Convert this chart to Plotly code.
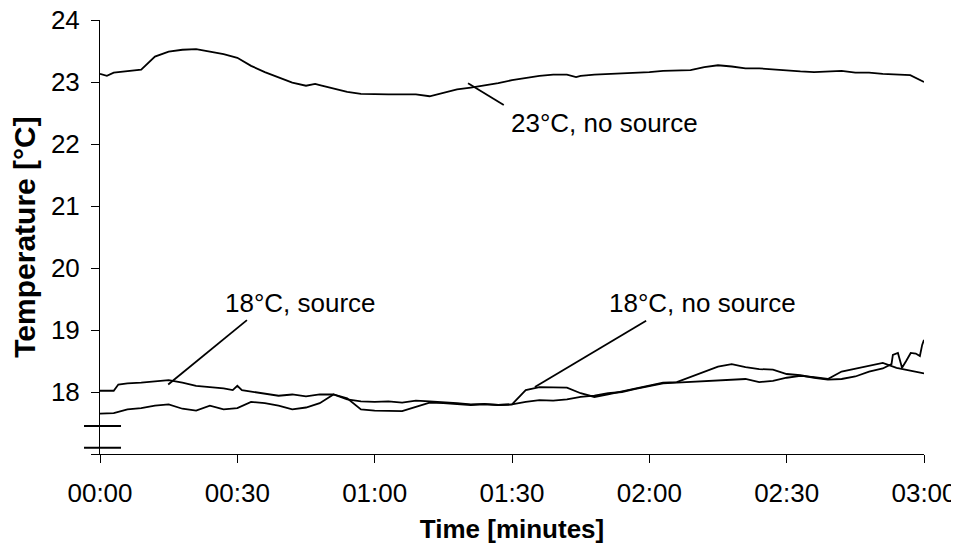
import plotly.graph_objects as go

# ---------------- data ----------------
# time in seconds (axis labelled mm:ss)
t_top = [0, 1.5, 3, 6, 9, 12, 15, 18, 21, 24, 27, 30, 33, 36, 39, 42, 45, 47, 48, 51, 54, 57,
         60, 63, 66, 69, 72, 75, 78, 81, 84, 87, 90, 93, 96, 99, 102, 104, 105, 108, 111, 114, 117,
         120, 123, 126, 129, 132, 135, 138, 141, 144, 147, 150, 153, 156, 159, 162, 165, 168, 171, 174, 177, 180]
temp_23_nosource = [23.13, 23.10, 23.15, 23.18, 23.20, 23.41, 23.49, 23.52, 23.53, 23.49, 23.45,
                    23.39, 23.26, 23.16, 23.08, 22.99, 22.94, 22.97, 22.95, 22.89, 22.84, 22.81,
                    22.80, 22.80, 22.80, 22.80, 22.77, 22.83, 22.88, 22.91, 22.94, 22.98,
                    23.03, 23.07, 23.10, 23.12, 23.12, 23.08, 23.10, 23.12, 23.13, 23.13, 23.14,
                    23.16, 23.18, 23.18, 23.19, 23.24, 23.27, 23.25, 23.22, 23.22, 23.20,
                    23.19, 23.17, 23.16, 23.17, 23.18, 23.15, 23.15, 23.13, 23.12, 23.11, 23.00]

t_src = [0, 3, 4, 6, 9, 12, 15, 18, 21, 24, 27, 29, 30, 31, 33, 36, 39, 42, 45, 48, 51, 54, 57,
         60, 63, 66, 69, 72, 75, 78, 81, 84, 87, 90, 93, 96, 99, 102, 105, 108, 111, 114, 117,
         120, 123, 126, 129, 132, 135, 138, 141, 144, 147, 150, 153, 156, 159, 162, 165, 168, 171, 174, 177, 180]
temp_18_source = [18.02, 18.02, 18.12, 18.14, 18.15, 18.17, 18.19, 18.15, 18.10, 18.08, 18.06,
                  18.03, 18.10, 18.03, 18.01, 17.98, 17.94, 17.96, 17.93, 17.96, 17.96, 17.88, 17.85,
                  17.84, 17.85, 17.83, 17.86, 17.85, 17.84, 17.82, 17.80, 17.81, 17.79,
                  17.80, 17.84, 17.87, 17.86, 17.88, 17.92, 17.94, 17.98, 18.00, 18.05,
                  18.10, 18.14, 18.15, 18.16, 18.18, 18.19, 18.20, 18.21, 18.16, 18.18,
                  18.23, 18.26, 18.24, 18.21, 18.33, 18.38, 18.43, 18.47, 18.39, 18.34, 18.30]

t_nosrc = [0, 3, 6, 9, 12, 15, 18, 21, 24, 27, 30, 33, 36, 39, 42, 45, 48, 51, 54, 57,
           60, 63, 66, 69, 72, 75, 78, 81, 84, 87, 90, 93, 96, 99, 102, 105, 108, 111, 114, 117,
           120, 123, 126, 129, 132, 135, 138, 141, 144, 147, 150, 153, 156, 159, 162, 165, 168, 171,
           172.9, 173.2, 174.3, 175.2, 176.1, 177.1, 178.2, 179.1, 179.6, 180]
temp_18_nosource = [17.65, 17.66, 17.72, 17.74, 17.78, 17.80, 17.73, 17.70, 17.78, 17.72,
                    17.74, 17.84, 17.82, 17.78, 17.72, 17.75, 17.82, 17.96, 17.90, 17.72,
                    17.70, 17.70, 17.69, 17.76, 17.83, 17.82, 17.80, 17.79, 17.80, 17.79,
                    17.80, 18.03, 18.08, 18.08, 18.07, 17.98, 17.92, 17.96, 18.01, 18.06,
                    18.10, 18.15, 18.16, 18.24, 18.33, 18.41, 18.45, 18.40, 18.37, 18.36,
                    18.29, 18.27, 18.23, 18.20, 18.21, 18.25, 18.33, 18.38,
                    18.45, 18.60, 18.63, 18.39, 18.50, 18.63, 18.62, 18.58, 18.76, 18.84]

x_tickvals = [0, 30, 60, 90, 120, 150, 180]
x_ticktext = ["00:00", "00:30", "01:00", "01:30", "02:00", "02:30", "03:00"]
y_tickvals = [17, 18, 19, 20, 21, 22, 23, 24]
y_ticktext = ["", "18", "19", "20", "21", "22", "23", "24"]

FONT = "Liberation Sans, Arial, sans-serif"

fig = go.Figure()
for tx, ty, name in [(t_top, temp_23_nosource, "23°C, no source"),
                     (t_src, temp_18_source, "18°C, source"),
                     (t_nosrc, temp_18_nosource, "18°C, no source")]:
    fig.add_trace(go.Scatter(x=tx, y=ty, mode="lines", name=name,
                             line=dict(color="black", width=1.8)))

# leader lines (data coords): from label to curve
leaders = [((88.2, 22.63), (80.4, 22.98)),
           ((32.1, 19.16), (14.9, 18.12)),
           ((119.3, 19.15), (95.0, 18.08))]
for (x0, y0), (x1, y1) in leaders:
    fig.add_shape(type="line", x0=x0, y0=y0, x1=x1, y1=y1, xref="x", yref="y",
                  line=dict(color="black", width=1.8))

# label annotations
labels = [(110.1, 22.34, "23°C, no source"),
          (43.9, 19.44, "18°C, source"),
          (131.7, 19.44, "18°C, no source")]
for lx, ly, txt in labels:
    fig.add_annotation(x=lx, y=ly, text=txt, showarrow=False, xref="x", yref="y",
                       font=dict(family=FONT, size=26, color="black"),
                       xanchor="center", yanchor="middle")

# axis break marks
for yb in [17.45, 17.1]:
    fig.add_shape(type="line", xref="paper", yref="y", x0=-0.0194, x1=0.0255, y0=yb, y1=yb,
                  line=dict(color="black", width=2))

# the page body adds an 8 px offset, so the figure is 8 px smaller
fig.update_layout(
    width=951, height=537,
    margin=dict(l=92, r=35, t=12, b=91),
    paper_bgcolor="white", plot_bgcolor="white",
    showlegend=False,
    font=dict(family=FONT, size=26, color="black"),
    xaxis=dict(range=[0, 180], tickvals=x_tickvals, ticktext=x_ticktext,
               ticks="outside", ticklen=8, tickcolor="black", showline=True,
               linecolor="black", linewidth=1, showgrid=False, zeroline=False,
               automargin=False, ticklabelstandoff=8, ticklabeloverflow="allow",
               tickfont=dict(size=26),
               title=dict(text="<b>Time [minutes]</b>", font=dict(size=26), standoff=12)),
    yaxis=dict(range=[17, 24], tickvals=y_tickvals, ticktext=y_ticktext,
               ticks="outside", ticklen=8, tickcolor="black", showline=True,
               linecolor="black", linewidth=1, showgrid=False, zeroline=False,
               automargin=False, ticklabelstandoff=6, ticklabeloverflow="allow",
               tickfont=dict(size=26),
               title=dict(text="<b>Temperature [°C]</b>", font=dict(size=30), standoff=14)),
)

fig.write_html("out.html")
